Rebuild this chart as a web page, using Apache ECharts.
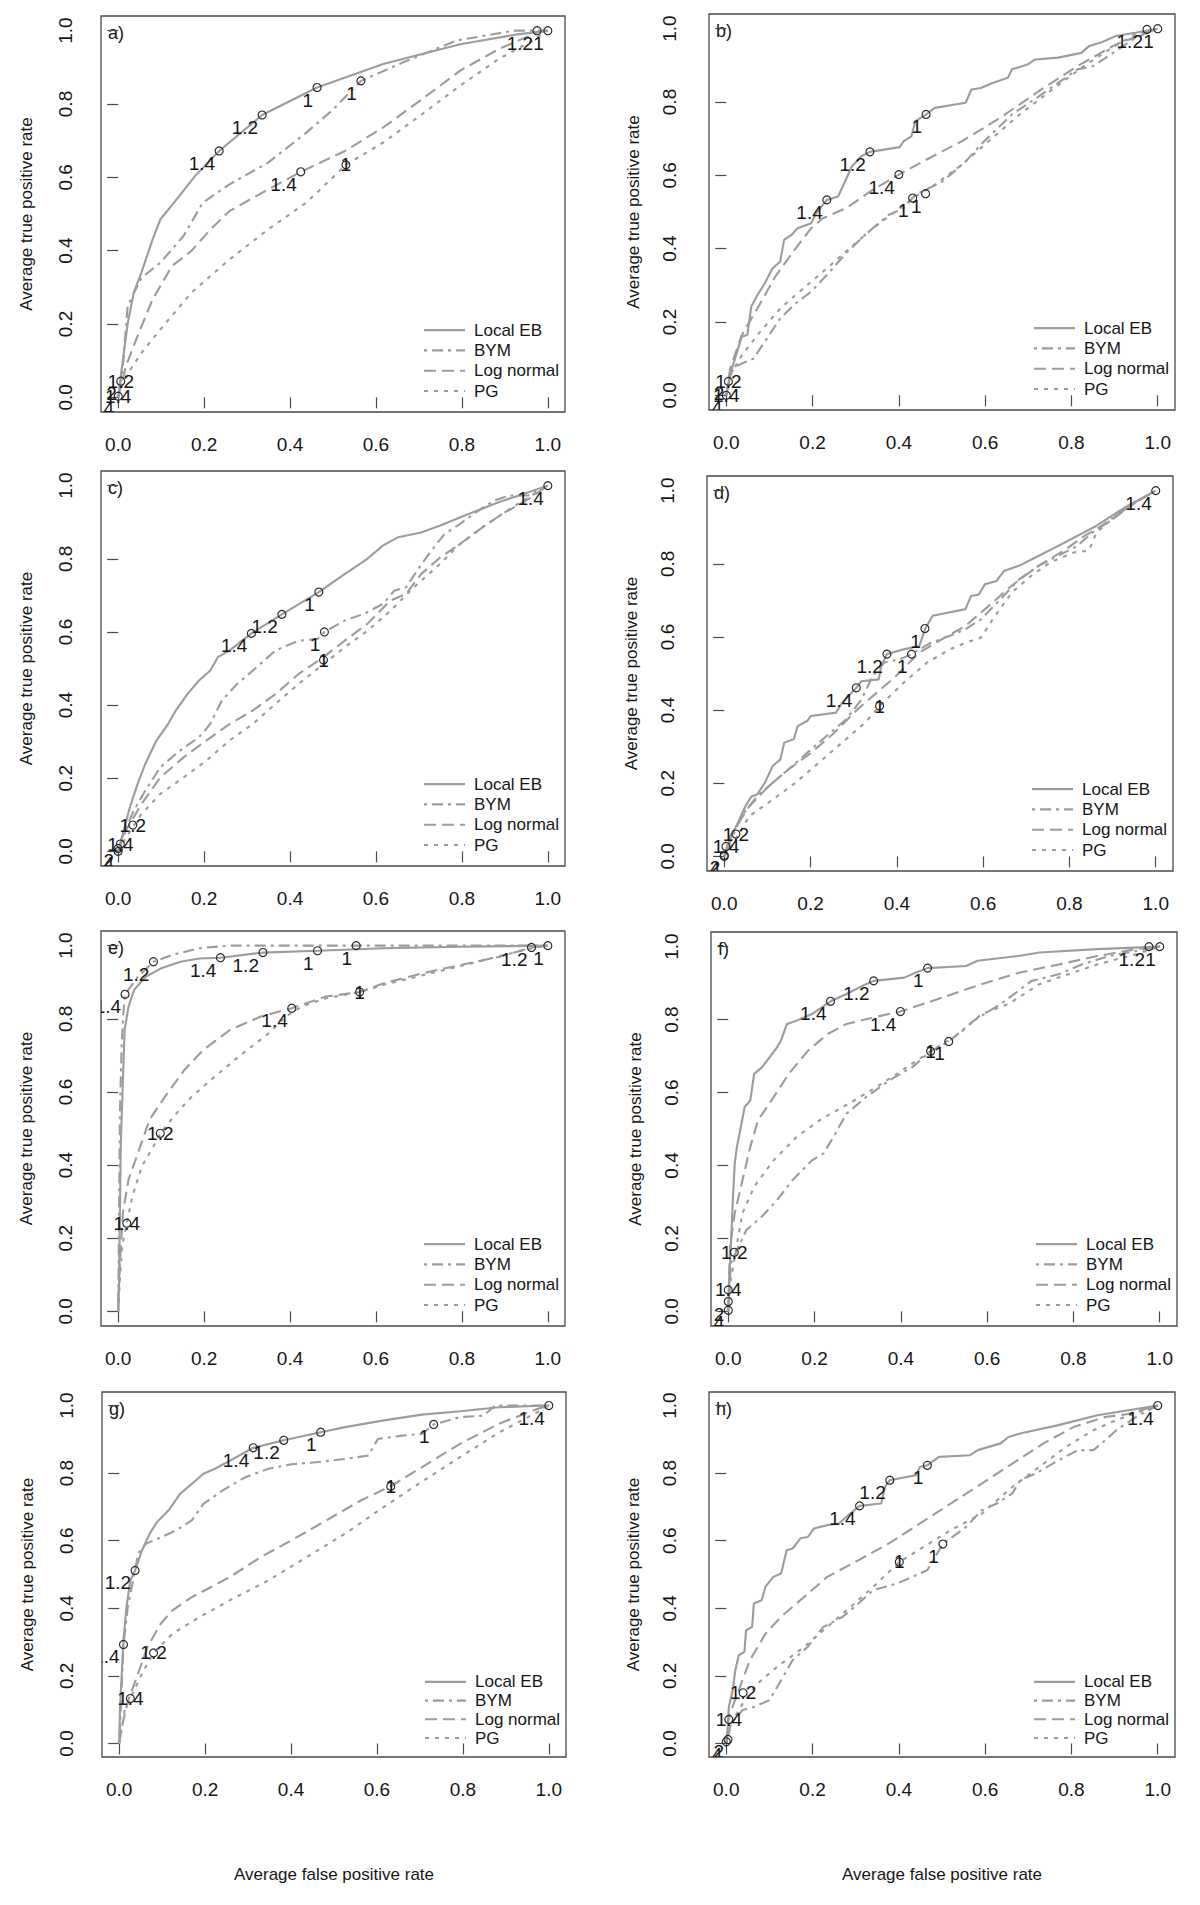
<!DOCTYPE html>
<html><head><meta charset="utf-8">
<script src="https://cdn.jsdelivr.net/npm/echarts@6/dist/echarts.min.js"></script>
<style>html,body{margin:0;padding:0;background:#fff}#c{width:1200px;height:1905px}</style>
</head><body><div id="c"></div>
<script>
// ---------- data ----------
const xTicks = [0, 0.2, 0.4, 0.6, 0.8, 1.0];
const yTicks = [0, 0.2, 0.4, 0.6, 0.8, 1.0];
const seriesNames = ['Local EB', 'BYM', 'Log normal', 'PG'];
const panelLetters = ['a)', 'b)', 'c)', 'd)', 'e)', 'f)', 'g)', 'h)'];
const xTitle = 'Average false positive rate';
const yTitle = 'Average true positive rate';

const aLEB = [[0,0],[0.009,0.085],[0.022,0.2],[0.036,0.285],[0.054,0.34],[0.08,0.43],[0.098,0.485],[0.143,0.55],[0.179,0.604],[0.235,0.672],[0.335,0.77],[0.463,0.845],[0.617,0.909],[0.796,0.963],[0.93,0.99],[1,1]];
const aBYM = [[0,0],[0.011,0.085],[0.022,0.249],[0.054,0.326],[0.098,0.367],[0.152,0.44],[0.197,0.531],[0.259,0.581],[0.349,0.64],[0.438,0.722],[0.501,0.786],[0.565,0.863],[0.662,0.913],[0.787,0.973],[0.921,1],[1,1]];
const aLN = [[0,0],[0.018,0.085],[0.045,0.167],[0.08,0.267],[0.125,0.358],[0.17,0.399],[0.215,0.458],[0.259,0.508],[0.349,0.567],[0.425,0.615],[0.528,0.672],[0.617,0.736],[0.707,0.813],[0.796,0.891],[0.886,0.95],[0.975,0.995],[1,1]];
const aPG = [[0,0],[0.018,0.057],[0.054,0.121],[0.098,0.185],[0.17,0.285],[0.259,0.376],[0.349,0.458],[0.438,0.531],[0.53,0.634],[0.617,0.695],[0.707,0.772],[0.796,0.85],[0.886,0.923],[0.957,0.968],[1,1]];
const aMarks = [[0.235,0.672,'1.4'],[0.335,0.77,'1.2'],[0.463,0.845,'1'],[0.565,0.863,'1'],[0.425,0.615,'1.4'],[0.53,0.634,''],[0.975,1,'1.2'],[1,1,'1'],[0.006,0.044,'2'],[0,0.003,'4']];
const aOver = [[0.53,0.634,'1'],[0.006,0.044,'1.2'],[0,0.003,'1.4']];

const bLEB = [[0,0],[0.013,0.073],[0.036,0.16],[0.049,0.165],[0.058,0.242],[0.072,0.273],[0.089,0.305],[0.107,0.346],[0.125,0.365],[0.134,0.424],[0.152,0.438],[0.165,0.456],[0.197,0.469],[0.206,0.492],[0.233,0.533],[0.259,0.542],[0.277,0.588],[0.291,0.624],[0.313,0.652],[0.333,0.664],[0.402,0.677],[0.411,0.693],[0.429,0.706],[0.438,0.747],[0.463,0.766],[0.483,0.784],[0.555,0.798],[0.568,0.834],[0.59,0.838],[0.617,0.852],[0.653,0.866],[0.662,0.889],[0.698,0.902],[0.716,0.916],[0.769,0.921],[0.823,0.934],[0.841,0.953],[0.868,0.962],[0.903,0.98],[0.948,0.989],[1,1]];
const bBYM = [[0,0],[0.009,0.06],[0.027,0.082],[0.063,0.1],[0.089,0.146],[0.125,0.21],[0.161,0.251],[0.197,0.283],[0.233,0.328],[0.277,0.387],[0.322,0.438],[0.376,0.492],[0.411,0.51],[0.438,0.547],[0.501,0.583],[0.555,0.638],[0.59,0.684],[0.662,0.766],[0.725,0.816],[0.814,0.889],[0.85,0.898],[0.903,0.939],[0.948,0.975],[1,1]];
const bLN = [[0,0],[0.009,0.073],[0.036,0.164],[0.072,0.237],[0.116,0.328],[0.161,0.401],[0.197,0.456],[0.224,0.483],[0.277,0.51],[0.34,0.561],[0.4,0.602],[0.456,0.638],[0.546,0.693],[0.635,0.757],[0.725,0.83],[0.814,0.898],[0.903,0.957],[1,1]];
const bPG = [[0,0],[0.009,0.055],[0.036,0.109],[0.072,0.164],[0.125,0.237],[0.179,0.292],[0.233,0.346],[0.286,0.401],[0.34,0.456],[0.402,0.51],[0.432,0.538],[0.483,0.574],[0.546,0.629],[0.608,0.693],[0.68,0.766],[0.751,0.83],[0.823,0.893],[0.894,0.948],[0.948,0.984],[1,1]];
const bMarks = [[0.233,0.533,'1.4'],[0.333,0.664,'1.2'],[0.463,0.766,'1'],[0.4,0.602,'1.4'],[0.462,0.55,'1'],[0.432,0.538,'1'],[0.975,0.998,'1.2'],[1,1,'1'],[0.005,0.038,'2'],[0,0,'4']];
const bOver = [[0.005,0.038,'1.2'],[0,0,'1.4']];

const cLEB = [[0,0],[0.013,0.057],[0.027,0.12],[0.045,0.184],[0.063,0.239],[0.089,0.303],[0.116,0.348],[0.134,0.385],[0.161,0.43],[0.188,0.467],[0.214,0.494],[0.232,0.531],[0.259,0.549],[0.31,0.596],[0.381,0.648],[0.467,0.709],[0.527,0.758],[0.58,0.8],[0.616,0.836],[0.652,0.859],[0.705,0.872],[0.75,0.891],[0.795,0.913],[0.884,0.954],[0.955,0.982],[1,1]];
const cBYM = [[0,0],[0.009,0.038],[0.036,0.111],[0.063,0.166],[0.098,0.23],[0.143,0.275],[0.188,0.312],[0.214,0.348],[0.241,0.412],[0.277,0.458],[0.313,0.494],[0.366,0.549],[0.42,0.576],[0.464,0.581],[0.48,0.6],[0.527,0.631],[0.571,0.649],[0.616,0.676],[0.643,0.713],[0.67,0.722],[0.696,0.768],[0.723,0.813],[0.759,0.867],[0.795,0.895],[0.839,0.932],[0.875,0.959],[0.911,0.973],[0.955,0.973],[1,1]];
const cLN = [[0,0],[0.018,0.057],[0.054,0.129],[0.098,0.202],[0.152,0.257],[0.205,0.303],[0.259,0.348],[0.313,0.385],[0.366,0.43],[0.42,0.485],[0.478,0.531],[0.527,0.576],[0.58,0.622],[0.634,0.686],[0.67,0.704],[0.705,0.758],[0.75,0.804],[0.795,0.84],[0.848,0.886],[0.893,0.922],[0.955,0.963],[1,1]];
const cPG = [[0,0],[0.018,0.038],[0.054,0.102],[0.098,0.157],[0.152,0.202],[0.205,0.248],[0.259,0.303],[0.313,0.348],[0.366,0.403],[0.42,0.458],[0.478,0.512],[0.527,0.558],[0.58,0.603],[0.634,0.658],[0.688,0.722],[0.741,0.777],[0.795,0.84],[0.848,0.886],[0.911,0.936],[1,1]];
const cMarks = [[0.31,0.596,'1.4'],[0.381,0.648,'1.2'],[0.467,0.709,'1'],[0.48,0.6,'1'],[0.478,0.523,''],[1,1,'1.4'],[0.034,0.072,''],[0.005,0.02,''],[0,0.008,'2'],[0,0,'4']];
const cOver = [[0.478,0.523,'1'],[0.034,0.072,'1.2'],[0.005,0.02,'1.4']];

const dLEB = [[0,0],[0.013,0.046],[0.031,0.091],[0.049,0.137],[0.063,0.164],[0.076,0.169],[0.094,0.201],[0.112,0.247],[0.13,0.265],[0.139,0.311],[0.161,0.32],[0.17,0.356],[0.192,0.37],[0.201,0.384],[0.259,0.393],[0.273,0.42],[0.306,0.461],[0.318,0.479],[0.358,0.484],[0.364,0.521],[0.377,0.553],[0.416,0.566],[0.452,0.575],[0.465,0.621],[0.483,0.658],[0.559,0.676],[0.572,0.712],[0.59,0.716],[0.604,0.744],[0.631,0.753],[0.649,0.781],[0.684,0.795],[0.729,0.822],[0.774,0.849],[0.863,0.904],[0.935,0.959],[1,1]];
const dBYM = [[0,0],[0.013,0.037],[0.04,0.11],[0.076,0.164],[0.112,0.201],[0.148,0.237],[0.192,0.283],[0.237,0.329],[0.282,0.374],[0.318,0.429],[0.344,0.493],[0.371,0.53],[0.407,0.539],[0.434,0.553],[0.479,0.584],[0.523,0.603],[0.559,0.621],[0.595,0.648],[0.64,0.703],[0.684,0.758],[0.729,0.795],[0.774,0.822],[0.818,0.849],[0.854,0.886],[0.908,0.932],[0.953,0.968],[1,1]];
const dLN = [[0,0],[0.013,0.055],[0.058,0.137],[0.103,0.192],[0.148,0.237],[0.201,0.283],[0.255,0.338],[0.309,0.402],[0.353,0.447],[0.398,0.493],[0.452,0.557],[0.505,0.594],[0.559,0.63],[0.613,0.685],[0.666,0.74],[0.729,0.795],[0.792,0.84],[0.836,0.877],[0.89,0.913],[0.953,0.968],[1,1]];
const dPG = [[0,0],[0.022,0.037],[0.058,0.11],[0.112,0.155],[0.165,0.201],[0.219,0.256],[0.273,0.311],[0.326,0.365],[0.36,0.411],[0.416,0.475],[0.47,0.53],[0.523,0.566],[0.559,0.584],[0.595,0.598],[0.622,0.648],[0.666,0.721],[0.711,0.767],[0.756,0.804],[0.81,0.831],[0.845,0.836],[0.863,0.886],[0.908,0.932],[0.953,0.968],[1,1]];
const dMarks = [[0.306,0.461,'1.4'],[0.377,0.553,'1.2'],[0.465,0.623,'1'],[0.434,0.553,'1'],[0.36,0.411,''],[1,1,'1.4'],[0.027,0.061,''],[0.004,0.027,''],[0,0.003,'2'],[0,0,'4']];
const dOver = [[0.36,0.411,'1'],[0.027,0.061,'1.2'],[0.004,0.027,'1.4']];

const eLEB = [[0,0],[0.002,0.087],[0.004,0.269],[0.006,0.451],[0.011,0.633],[0.015,0.77],[0.024,0.833],[0.037,0.879],[0.064,0.915],[0.1,0.938],[0.145,0.956],[0.189,0.965],[0.238,0.967],[0.337,0.981],[0.464,0.986],[0.618,0.993],[0.796,0.997],[1,1]];
const eBYM = [[0,0],[0.002,0.269],[0.004,0.542],[0.008,0.724],[0.012,0.815],[0.016,0.867],[0.046,0.915],[0.082,0.956],[0.127,0.975],[0.189,0.993],[0.261,1],[0.554,1],[1,1]];
const eLN = [[0,0],[0.004,0.132],[0.011,0.269],[0.024,0.36],[0.046,0.433],[0.073,0.524],[0.109,0.587],[0.154,0.66],[0.198,0.715],[0.261,0.77],[0.332,0.806],[0.404,0.829],[0.484,0.861],[0.562,0.873],[0.618,0.897],[0.707,0.924],[0.796,0.947],[0.886,0.969],[0.962,0.995],[1,1]];
const ePG = [[0,0],[0.004,0.087],[0.009,0.178],[0.02,0.241],[0.033,0.314],[0.055,0.396],[0.082,0.451],[0.098,0.487],[0.136,0.542],[0.171,0.587],[0.225,0.642],[0.279,0.695],[0.35,0.76],[0.39,0.806],[0.43,0.835],[0.484,0.856],[0.562,0.873],[0.618,0.893],[0.796,0.944],[0.962,0.993],[1,1]];
const eMarks = [[0.238,0.967,'1.4'],[0.337,0.981,'1.2'],[0.464,0.986,'1'],[0.016,0.867,'1.4'],[0.082,0.956,'1.2'],[0.554,1,'1'],[0.404,0.829,'1.4'],[0.562,0.873,''],[0.962,0.995,'1.2'],[1,1,'1'],[0.098,0.487,''],[0.02,0.241,'']];
const eOver = [[0.562,0.873,'1'],[0.098,0.487,'1.2'],[0.02,0.241,'1.4']];

const fLEB = [[0,0],[0.002,0.087],[0.006,0.178],[0.011,0.314],[0.015,0.405],[0.02,0.451],[0.029,0.505],[0.038,0.56],[0.051,0.578],[0.06,0.651],[0.078,0.669],[0.096,0.697],[0.113,0.724],[0.122,0.742],[0.136,0.788],[0.158,0.797],[0.194,0.815],[0.237,0.85],[0.274,0.87],[0.319,0.897],[0.337,0.906],[0.408,0.915],[0.435,0.929],[0.462,0.941],[0.551,0.947],[0.578,0.961],[0.676,0.975],[0.721,0.984],[0.855,0.993],[1,1]];
const fBYM = [[0,0],[0.006,0.132],[0.024,0.178],[0.042,0.223],[0.078,0.26],[0.113,0.305],[0.149,0.36],[0.194,0.414],[0.221,0.433],[0.248,0.487],[0.274,0.542],[0.319,0.587],[0.373,0.633],[0.426,0.669],[0.469,0.713],[0.511,0.74],[0.569,0.797],[0.632,0.843],[0.703,0.906],[0.766,0.924],[0.819,0.951],[0.882,0.974],[0.945,0.988],[1,1]];
const fLN = [[0,0],[0.004,0.178],[0.015,0.269],[0.033,0.36],[0.051,0.451],[0.069,0.524],[0.105,0.587],[0.14,0.651],[0.185,0.715],[0.23,0.76],[0.274,0.788],[0.337,0.806],[0.399,0.822],[0.498,0.861],[0.587,0.897],[0.676,0.929],[0.766,0.951],[0.855,0.974],[0.945,0.993],[1,1]];
const fPG = [[0,0],[0.006,0.087],[0.015,0.15],[0.033,0.269],[0.06,0.342],[0.105,0.414],[0.158,0.478],[0.212,0.524],[0.265,0.56],[0.319,0.597],[0.391,0.651],[0.469,0.713],[0.534,0.76],[0.587,0.815],[0.65,0.843],[0.721,0.897],[0.766,0.915],[0.855,0.951],[0.945,0.979],[1,1]];
const fMarks = [[0.237,0.85,'1.4'],[0.337,0.906,'1.2'],[0.462,0.941,'1'],[0.399,0.822,'1.4'],[0.511,0.74,'1'],[0.469,0.713,''],[0.975,1,'1.2'],[1,1,'1'],[0.014,0.162,''],[0,0.059,''],[0,0.027,'2'],[0,0.003,'4']];
const fOver = [[0.469,0.713,'1'],[0.014,0.162,'1.2'],[0,0.059,'1.4']];

const gLEB = [[0,0],[0.002,0.108],[0.006,0.207],[0.01,0.305],[0.017,0.404],[0.026,0.483],[0.037,0.512],[0.053,0.571],[0.071,0.621],[0.088,0.655],[0.115,0.69],[0.142,0.739],[0.169,0.768],[0.196,0.798],[0.223,0.813],[0.258,0.837],[0.312,0.875],[0.383,0.897],[0.469,0.921],[0.526,0.936],[0.616,0.956],[0.705,0.973],[0.794,0.983],[0.884,0.995],[1,1]];
const gBYM = [[0,0],[0.004,0.108],[0.007,0.2],[0.01,0.293],[0.02,0.404],[0.037,0.512],[0.044,0.562],[0.062,0.591],[0.097,0.61],[0.133,0.631],[0.169,0.66],[0.196,0.709],[0.241,0.749],[0.294,0.788],[0.348,0.813],[0.401,0.826],[0.464,0.833],[0.526,0.842],[0.58,0.852],[0.602,0.901],[0.66,0.911],[0.705,0.916],[0.732,0.944],[0.794,0.966],[0.848,0.97],[0.875,1],[1,1]];
const gLN = [[0,0],[0.008,0.059],[0.021,0.128],[0.044,0.207],[0.066,0.286],[0.097,0.355],[0.124,0.394],[0.169,0.433],[0.214,0.463],[0.258,0.493],[0.33,0.552],[0.401,0.601],[0.482,0.66],[0.562,0.719],[0.632,0.761],[0.705,0.818],[0.794,0.887],[0.884,0.946],[0.973,0.99],[1,1]];
const gPG = [[0,0],[0.013,0.099],[0.026,0.133],[0.053,0.207],[0.08,0.268],[0.124,0.325],[0.187,0.374],[0.258,0.424],[0.348,0.483],[0.437,0.552],[0.526,0.621],[0.616,0.7],[0.705,0.775],[0.794,0.848],[0.884,0.92],[0.973,0.98],[1,1]];
const gMarks = [[0.312,0.875,'1.4'],[0.383,0.897,'1.2'],[0.469,0.921,'1'],[0.01,0.293,'1.4'],[0.037,0.512,'1.2'],[0.732,0.944,'1'],[0.632,0.761,''],[1,1,'1.4'],[0.08,0.268,''],[0.026,0.133,'']];
const gOver = [[0.632,0.761,'1'],[0.08,0.268,'1.2'],[0.026,0.133,'1.4']];

const hLEB = [[0,0],[0.002,0.02],[0.006,0.108],[0.015,0.158],[0.021,0.217],[0.029,0.261],[0.042,0.271],[0.046,0.335],[0.06,0.345],[0.064,0.414],[0.082,0.424],[0.091,0.464],[0.109,0.493],[0.127,0.503],[0.14,0.572],[0.154,0.577],[0.172,0.607],[0.189,0.611],[0.203,0.636],[0.234,0.646],[0.261,0.651],[0.279,0.671],[0.309,0.703],[0.359,0.71],[0.368,0.759],[0.379,0.779],[0.44,0.794],[0.449,0.819],[0.466,0.823],[0.493,0.848],[0.565,0.853],[0.583,0.868],[0.636,0.888],[0.654,0.907],[0.681,0.917],[0.77,0.942],[0.86,0.971],[1,1]];
const hBYM = [[0,0],[0.011,0.059],[0.038,0.099],[0.064,0.108],[0.1,0.128],[0.127,0.187],[0.154,0.247],[0.189,0.286],[0.225,0.345],[0.27,0.375],[0.306,0.414],[0.341,0.454],[0.395,0.473],[0.431,0.493],[0.466,0.513],[0.484,0.552],[0.502,0.59],[0.556,0.641],[0.592,0.69],[0.627,0.71],[0.663,0.74],[0.681,0.779],[0.717,0.799],[0.77,0.838],[0.815,0.868],[0.851,0.868],[0.878,0.897],[0.904,0.927],[0.949,0.966],[1,1]];
const hLN = [[0,0],[0.006,0.079],[0.029,0.158],[0.055,0.247],[0.091,0.325],[0.127,0.375],[0.181,0.434],[0.234,0.493],[0.306,0.542],[0.377,0.592],[0.449,0.651],[0.52,0.71],[0.592,0.769],[0.663,0.828],[0.735,0.888],[0.806,0.937],[0.878,0.966],[0.931,0.975],[1,1]];
const hPG = [[0,0],[0.011,0.059],[0.038,0.118],[0.073,0.178],[0.118,0.227],[0.181,0.286],[0.234,0.345],[0.288,0.404],[0.341,0.464],[0.401,0.537],[0.458,0.582],[0.52,0.631],[0.592,0.68],[0.663,0.759],[0.726,0.819],[0.788,0.878],[0.851,0.927],[0.904,0.957],[1,1]];
const hMarks = [[0.309,0.703,'1.4'],[0.379,0.779,'1.2'],[0.466,0.823,'1'],[0.502,0.59,'1'],[0.401,0.537,''],[1,1,'1.4'],[0.039,0.15,''],[0.006,0.071,''],[0.004,0.012,'2'],[0,0.005,'4']];
const hOver = [[0.401,0.537,'1'],[0.039,0.15,'1.2'],[0.006,0.071,'1.4']];

// ---------- layout / style ----------
const panels = [
  {curves:[aLEB,aBYM,aLN,aPG], marks:aMarks, over:aOver},
  {curves:[bLEB,bBYM,bLN,bPG], marks:bMarks, over:bOver},
  {curves:[cLEB,cBYM,cLN,cPG], marks:cMarks, over:cOver},
  {curves:[dLEB,dBYM,dLN,dPG], marks:dMarks, over:dOver},
  {curves:[eLEB,eBYM,eLN,ePG], marks:eMarks, over:eOver},
  {curves:[fLEB,fBYM,fLN,fPG], marks:fMarks, over:fOver},
  {curves:[gLEB,gBYM,gLN,gPG], marks:gMarks, over:gOver},
  {curves:[hLEB,hBYM,hLN,hPG], marks:hMarks, over:hOver}
];
const LAYOUT = [
  {l:101,t:16,w:464,h:396},{l:709,t:14,w:466,h:396},
  {l:101,t:471,w:464,h:395},{l:707,t:476,w:466,h:395},
  {l:101,t:931,w:464,h:395},{l:711,t:932,w:466,h:394},
  {l:102,t:1392,w:464,h:365},{l:709,t:1392,w:466,h:365}
];
const FONT = '"Liberation Sans", Arial, sans-serif';
const FS_TICK = 19, FS_MARK = 19, FS_LEG = 17, FS_TITLE = 17, FS_LET = 18;
const TXT = '#161616';
const FRAME = '#4a4a4a';
const LINE_COLOR = '#9c9c9c';
const DASHES = ['solid', [3,5,11,5], [12,6], [4,6]];
const DASH_ARR = [null, [3,5,11,5], [12,6], [4,6]];

const grids = [], xAxes = [], yAxes = [], series = [], graphics = [];
LAYOUT.forEach((g, i) => {
  grids.push({left:g.l, top:g.t, width:g.w, height:g.h, show:true, borderColor:FRAME, borderWidth:1.3,
    backgroundColor:'transparent', containLabel:false, outerBoundsMode:'none'});
  const bottomRow = i >= 6;
  const rightCol = i % 2 === 1;
  xAxes.push({type:'value', gridIndex:i, min:-0.04, max:1.04, position:'bottom',
    axisLine:{show:false}, splitLine:{show:false},
    axisTick:{show:true, inside:false, length:11, customValues:xTicks, lineStyle:{color:FRAME, width:1.2}},
    axisLabel:{show:true, customValues:xTicks, formatter:v => v.toFixed(1), margin:23,
      fontSize:FS_TICK, fontFamily:FONT, color:TXT},
    name: bottomRow ? xTitle : '', nameLocation:'middle', nameGap:109, nameMoveOverlap:false,
    nameTextStyle:{fontSize:FS_TITLE, fontFamily:FONT, color:TXT}
  });
  yAxes.push({type:'value', gridIndex:i, min:-0.04, max:1.04, position:'left',
    axisLine:{show:false}, splitLine:{show:false},
    axisTick:{show:true, inside:false, length:11, customValues:yTicks, lineStyle:{color:FRAME, width:1.2}},
    axisLabel:{show:true, customValues:yTicks, formatter:v => v.toFixed(1), margin: rightCol ? 30 : 26, rotate:90,
      fontSize:FS_TICK, fontFamily:FONT, color:TXT},
    name: yTitle, nameLocation:'middle', nameGap: rightCol ? 67 : 66, nameMoveOverlap:false,
    nameTextStyle:{fontSize:FS_TITLE, fontFamily:FONT, color:TXT}
  });
  const p = panels[i];
  p.curves.forEach((c, k) => {
    series.push({type:'line', name:seriesNames[k], xAxisIndex:i, yAxisIndex:i, data:c,
      showSymbol:false, symbol:'none', clip:true, silent:true, z:2,
      lineStyle:{color:LINE_COLOR, width:2.1, type:DASHES[k]}});
  });
  const marks = p.marks;
  series.push({type:'custom', xAxisIndex:i, yAxisIndex:i, clip:true, silent:true, z:5,
    data: marks.map(m => [m[0], m[1]]),
    renderItem: (params, api) => {
      const pt = api.coord([api.value(0), api.value(1)]);
      const lab = marks[params.dataIndex][2];
      const kids = [{type:'circle', shape:{cx:pt[0], cy:pt[1], r:4}, style:{fill:'none', stroke:'#262626', lineWidth:1.15}}];
      if (lab) kids.push({type:'text', x:pt[0]-4, y:pt[1]+3, style:{text:lab, align:'right', verticalAlign:'top',
          fontSize:FS_MARK, fontFamily:FONT, fill:TXT}});
      return {type:'group', children:kids};
    }
  });
  const over = p.over;
  series.push({type:'custom', xAxisIndex:i, yAxisIndex:i, clip:true, silent:true, z:6,
    data: over.map(m => [m[0], m[1]]),
    renderItem: (params, api) => {
      const pt = api.coord([api.value(0), api.value(1)]);
      return {type:'text', x:pt[0], y:pt[1], style:{text:over[params.dataIndex][2], align:'center',
        verticalAlign:'middle', fontSize:FS_MARK, fontFamily:FONT, fill:TXT}};
    }
  });
  // panel letter
  graphics.push({type:'text', x:g.l+7, y:g.t+17, style:{text:panelLetters[i], fontSize:FS_LET, fontFamily:FONT,
    fill:TXT, verticalAlign:'middle', align:'left'}});
  // legend
  const R = g.l + g.w, B = g.t + g.h;
  const sp = bottomRow ? 18.7 : 20.3, d0 = bottomRow ? 19 : 21;
  seriesNames.forEach((nm, k) => {
    const y = B - d0 - sp * (3 - k);
    const st = {stroke:LINE_COLOR, lineWidth:2.1};
    if (DASH_ARR[k]) st.lineDash = DASH_ARR[k];
    graphics.push({type:'line', shape:{x1:R-141, y1:y, x2:R-100, y2:y}, style:st});
    graphics.push({type:'text', x:R-91, y:y, style:{text:nm, fontSize:FS_LEG, fontFamily:FONT, fill:TXT,
      verticalAlign:'middle', align:'left'}});
  });
});

const chart = echarts.init(document.getElementById('c'), null, {renderer:'svg', width:1200, height:1905});
chart.setOption({
  animation:false, backgroundColor:'#ffffff',
  textStyle:{fontFamily:FONT},
  grid:grids, xAxis:xAxes, yAxis:yAxes, series:series, graphic:graphics
});
</script></body></html>
